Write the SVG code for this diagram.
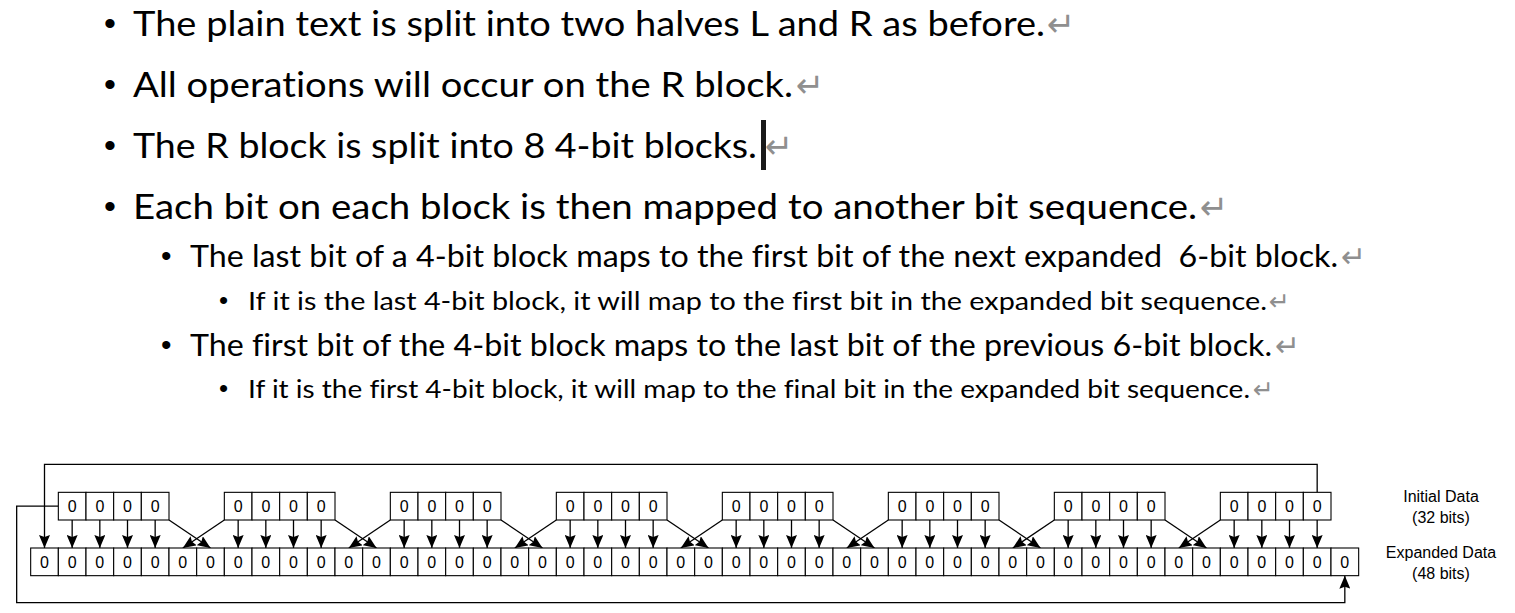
<svg xmlns="http://www.w3.org/2000/svg" width="1515" height="613" viewBox="0 0 1515 613">
<style>
.t1,.t2,.t3{font-family:Lato,"Open Sans",sans-serif;fill:#000;font-variant-ligatures:none}
.t1{font-size:35px}
.t2{font-size:30px}
.t3{font-size:25px}
.b{font-family:"Liberation Sans",Arial,sans-serif;fill:#000}
.ret{font-family:"DejaVu Sans",sans-serif;fill:#8f8f8f}
.cell{fill:#fff;stroke:#000;stroke-width:1.1}
.d{font-family:"Liberation Sans",Arial,sans-serif;font-size:16px;fill:#000;text-anchor:middle}
.lbl{font-family:"Liberation Sans",Arial,sans-serif;font-size:16px;fill:#000;text-anchor:middle}
.c{fill:none;stroke:#000;stroke-width:1.3}
</style>
<defs>
<marker id="arr" viewBox="0 0 13 11" refX="13" refY="5.5" markerWidth="13" markerHeight="11" orient="auto" markerUnits="userSpaceOnUse">
<path d="M0,0 L13,5.5 L0,11 L2,5.5 z" fill="#000"/>
</marker>
</defs>
<rect width="1515" height="613" fill="#fff"/>

<g id="text">
<text class="b" x="104" y="35" font-size="34">•</text>
<text class="t1" x="133" y="36" textLength="912" lengthAdjust="spacingAndGlyphs">The plain text is split into two halves L and R as before.</text>
<text class="ret" x="1047" y="36" font-size="34">↵</text>

<text class="b" x="104" y="96" font-size="34">•</text>
<text class="t1" x="133" y="97" textLength="660" lengthAdjust="spacingAndGlyphs">All operations will occur on the R block.</text>
<text class="ret" x="796" y="97" font-size="34">↵</text>

<text class="b" x="104" y="157" font-size="34">•</text>
<text class="t1" x="133" y="158" textLength="624" lengthAdjust="spacingAndGlyphs">The R block is split into 8 4-bit blocks.</text>
<rect x="761" y="120" width="5" height="50" fill="#1a1a1a"/>
<text class="ret" x="765" y="158" font-size="34">↵</text>

<text class="b" x="104" y="218" font-size="34">•</text>
<text class="t1" x="133" y="219" textLength="1064" lengthAdjust="spacingAndGlyphs">Each bit on each block is then mapped to another bit sequence.</text>
<text class="ret" x="1200" y="219" font-size="34">↵</text>

<text class="b" x="161" y="266" font-size="30">•</text>
<text class="t2" x="190" y="267" textLength="1148" lengthAdjust="spacingAndGlyphs" xml:space="preserve">The last bit of a 4-bit block maps to the first bit of the next expanded  6-bit block.</text>
<text class="ret" x="1341" y="267" font-size="30">↵</text>

<text class="b" x="219" y="309" font-size="26">•</text>
<text class="t3" x="248" y="310" textLength="1019" lengthAdjust="spacingAndGlyphs">If it is the last 4-bit block, it will map to the first bit in the expanded bit sequence.</text>
<text class="ret" x="1269" y="310" font-size="25">↵</text>

<text class="b" x="161" y="355" font-size="30">•</text>
<text class="t2" x="190" y="356" textLength="1082" lengthAdjust="spacingAndGlyphs">The first bit of the 4-bit block maps to the last bit of the previous 6-bit block.</text>
<text class="ret" x="1275" y="356" font-size="30">↵</text>

<text class="b" x="219" y="397" font-size="26">•</text>
<text class="t3" x="248" y="398" textLength="1002" lengthAdjust="spacingAndGlyphs">If it is the first 4-bit block, it will map to the final bit in the expanded bit sequence.</text>
<text class="ret" x="1253" y="398" font-size="25">↵</text>
</g>

<g id="connectors">
<g transform="translate(58.33,0)">
<line class="c" x1="13.83" y1="520" x2="13.83" y2="548" marker-end="url(#arr)"/><line class="c" x1="41.5" y1="520" x2="41.5" y2="548" marker-end="url(#arr)"/><line class="c" x1="69.17" y1="520" x2="69.17" y2="548" marker-end="url(#arr)"/><line class="c" x1="96.83" y1="520" x2="96.83" y2="548" marker-end="url(#arr)"/>
</g>
<g transform="translate(224.33,0)">
<line class="c" x1="13.83" y1="520" x2="13.83" y2="548" marker-end="url(#arr)"/><line class="c" x1="41.5" y1="520" x2="41.5" y2="548" marker-end="url(#arr)"/><line class="c" x1="69.17" y1="520" x2="69.17" y2="548" marker-end="url(#arr)"/><line class="c" x1="96.83" y1="520" x2="96.83" y2="548" marker-end="url(#arr)"/>
</g>
<g transform="translate(390.33,0)">
<line class="c" x1="13.83" y1="520" x2="13.83" y2="548" marker-end="url(#arr)"/><line class="c" x1="41.5" y1="520" x2="41.5" y2="548" marker-end="url(#arr)"/><line class="c" x1="69.17" y1="520" x2="69.17" y2="548" marker-end="url(#arr)"/><line class="c" x1="96.83" y1="520" x2="96.83" y2="548" marker-end="url(#arr)"/>
</g>
<g transform="translate(556.33,0)">
<line class="c" x1="13.83" y1="520" x2="13.83" y2="548" marker-end="url(#arr)"/><line class="c" x1="41.5" y1="520" x2="41.5" y2="548" marker-end="url(#arr)"/><line class="c" x1="69.17" y1="520" x2="69.17" y2="548" marker-end="url(#arr)"/><line class="c" x1="96.83" y1="520" x2="96.83" y2="548" marker-end="url(#arr)"/>
</g>
<g transform="translate(722.33,0)">
<line class="c" x1="13.83" y1="520" x2="13.83" y2="548" marker-end="url(#arr)"/><line class="c" x1="41.5" y1="520" x2="41.5" y2="548" marker-end="url(#arr)"/><line class="c" x1="69.17" y1="520" x2="69.17" y2="548" marker-end="url(#arr)"/><line class="c" x1="96.83" y1="520" x2="96.83" y2="548" marker-end="url(#arr)"/>
</g>
<g transform="translate(888.33,0)">
<line class="c" x1="13.83" y1="520" x2="13.83" y2="548" marker-end="url(#arr)"/><line class="c" x1="41.5" y1="520" x2="41.5" y2="548" marker-end="url(#arr)"/><line class="c" x1="69.17" y1="520" x2="69.17" y2="548" marker-end="url(#arr)"/><line class="c" x1="96.83" y1="520" x2="96.83" y2="548" marker-end="url(#arr)"/>
</g>
<g transform="translate(1054.33,0)">
<line class="c" x1="13.83" y1="520" x2="13.83" y2="548" marker-end="url(#arr)"/><line class="c" x1="41.5" y1="520" x2="41.5" y2="548" marker-end="url(#arr)"/><line class="c" x1="69.17" y1="520" x2="69.17" y2="548" marker-end="url(#arr)"/><line class="c" x1="96.83" y1="520" x2="96.83" y2="548" marker-end="url(#arr)"/>
</g>
<g transform="translate(1220.33,0)">
<line class="c" x1="13.83" y1="520" x2="13.83" y2="548" marker-end="url(#arr)"/><line class="c" x1="41.5" y1="520" x2="41.5" y2="548" marker-end="url(#arr)"/><line class="c" x1="69.17" y1="520" x2="69.17" y2="548" marker-end="url(#arr)"/><line class="c" x1="96.83" y1="520" x2="96.83" y2="548" marker-end="url(#arr)"/>
</g>
<line class="c" x1="169" y1="520" x2="210.5" y2="548" marker-end="url(#arr)"/>
<line class="c" x1="224.33" y1="520" x2="182.83" y2="548" marker-end="url(#arr)"/>
<line class="c" x1="335" y1="520" x2="376.5" y2="548" marker-end="url(#arr)"/>
<line class="c" x1="390.33" y1="520" x2="348.83" y2="548" marker-end="url(#arr)"/>
<line class="c" x1="501" y1="520" x2="542.5" y2="548" marker-end="url(#arr)"/>
<line class="c" x1="556.33" y1="520" x2="514.83" y2="548" marker-end="url(#arr)"/>
<line class="c" x1="667" y1="520" x2="708.5" y2="548" marker-end="url(#arr)"/>
<line class="c" x1="722.33" y1="520" x2="680.83" y2="548" marker-end="url(#arr)"/>
<line class="c" x1="833" y1="520" x2="874.5" y2="548" marker-end="url(#arr)"/>
<line class="c" x1="888.33" y1="520" x2="846.83" y2="548" marker-end="url(#arr)"/>
<line class="c" x1="999" y1="520" x2="1040.5" y2="548" marker-end="url(#arr)"/>
<line class="c" x1="1054.33" y1="520" x2="1012.83" y2="548" marker-end="url(#arr)"/>
<line class="c" x1="1165" y1="520" x2="1206.5" y2="548" marker-end="url(#arr)"/>
<line class="c" x1="1220.33" y1="520" x2="1178.83" y2="548" marker-end="url(#arr)"/>
<path class="c" d="M1317.17,492.33V464.33H44.5V548" marker-end="url(#arr)"/>
<path class="c" d="M58.33,506.17H16.67V602.67H1344.83V575.67" marker-end="url(#arr)"/>
</g>

<g id="block-0" transform="translate(58.33,492.33)"><rect class="cell" x="0" y="0" width="27.67" height="27.67"/><rect class="cell" x="27.67" y="0" width="27.67" height="27.67"/><rect class="cell" x="55.33" y="0" width="27.67" height="27.67"/><rect class="cell" x="83" y="0" width="27.67" height="27.67"/><text class="d" x="13.83" y="19.6">0</text><text class="d" x="41.5" y="19.6">0</text><text class="d" x="69.17" y="19.6">0</text><text class="d" x="96.83" y="19.6">0</text></g>
<g id="block-1" transform="translate(224.33,492.33)"><rect class="cell" x="0" y="0" width="27.67" height="27.67"/><rect class="cell" x="27.67" y="0" width="27.67" height="27.67"/><rect class="cell" x="55.33" y="0" width="27.67" height="27.67"/><rect class="cell" x="83" y="0" width="27.67" height="27.67"/><text class="d" x="13.83" y="19.6">0</text><text class="d" x="41.5" y="19.6">0</text><text class="d" x="69.17" y="19.6">0</text><text class="d" x="96.83" y="19.6">0</text></g>
<g id="block-2" transform="translate(390.33,492.33)"><rect class="cell" x="0" y="0" width="27.67" height="27.67"/><rect class="cell" x="27.67" y="0" width="27.67" height="27.67"/><rect class="cell" x="55.33" y="0" width="27.67" height="27.67"/><rect class="cell" x="83" y="0" width="27.67" height="27.67"/><text class="d" x="13.83" y="19.6">0</text><text class="d" x="41.5" y="19.6">0</text><text class="d" x="69.17" y="19.6">0</text><text class="d" x="96.83" y="19.6">0</text></g>
<g id="block-3" transform="translate(556.33,492.33)"><rect class="cell" x="0" y="0" width="27.67" height="27.67"/><rect class="cell" x="27.67" y="0" width="27.67" height="27.67"/><rect class="cell" x="55.33" y="0" width="27.67" height="27.67"/><rect class="cell" x="83" y="0" width="27.67" height="27.67"/><text class="d" x="13.83" y="19.6">0</text><text class="d" x="41.5" y="19.6">0</text><text class="d" x="69.17" y="19.6">0</text><text class="d" x="96.83" y="19.6">0</text></g>
<g id="block-4" transform="translate(722.33,492.33)"><rect class="cell" x="0" y="0" width="27.67" height="27.67"/><rect class="cell" x="27.67" y="0" width="27.67" height="27.67"/><rect class="cell" x="55.33" y="0" width="27.67" height="27.67"/><rect class="cell" x="83" y="0" width="27.67" height="27.67"/><text class="d" x="13.83" y="19.6">0</text><text class="d" x="41.5" y="19.6">0</text><text class="d" x="69.17" y="19.6">0</text><text class="d" x="96.83" y="19.6">0</text></g>
<g id="block-5" transform="translate(888.33,492.33)"><rect class="cell" x="0" y="0" width="27.67" height="27.67"/><rect class="cell" x="27.67" y="0" width="27.67" height="27.67"/><rect class="cell" x="55.33" y="0" width="27.67" height="27.67"/><rect class="cell" x="83" y="0" width="27.67" height="27.67"/><text class="d" x="13.83" y="19.6">0</text><text class="d" x="41.5" y="19.6">0</text><text class="d" x="69.17" y="19.6">0</text><text class="d" x="96.83" y="19.6">0</text></g>
<g id="block-6" transform="translate(1054.33,492.33)"><rect class="cell" x="0" y="0" width="27.67" height="27.67"/><rect class="cell" x="27.67" y="0" width="27.67" height="27.67"/><rect class="cell" x="55.33" y="0" width="27.67" height="27.67"/><rect class="cell" x="83" y="0" width="27.67" height="27.67"/><text class="d" x="13.83" y="19.6">0</text><text class="d" x="41.5" y="19.6">0</text><text class="d" x="69.17" y="19.6">0</text><text class="d" x="96.83" y="19.6">0</text></g>
<g id="block-7" transform="translate(1220.33,492.33)"><rect class="cell" x="0" y="0" width="27.67" height="27.67"/><rect class="cell" x="27.67" y="0" width="27.67" height="27.67"/><rect class="cell" x="55.33" y="0" width="27.67" height="27.67"/><rect class="cell" x="83" y="0" width="27.67" height="27.67"/><text class="d" x="13.83" y="19.6">0</text><text class="d" x="41.5" y="19.6">0</text><text class="d" x="69.17" y="19.6">0</text><text class="d" x="96.83" y="19.6">0</text></g>

<g id="expanded-0" transform="translate(30.67,548)"><rect class="cell" x="0" y="0" width="27.67" height="27.67"/><rect class="cell" x="27.67" y="0" width="27.67" height="27.67"/><rect class="cell" x="55.33" y="0" width="27.67" height="27.67"/><rect class="cell" x="83" y="0" width="27.67" height="27.67"/><rect class="cell" x="110.67" y="0" width="27.67" height="27.67"/><rect class="cell" x="138.33" y="0" width="27.67" height="27.67"/><text class="d" x="13.83" y="19.6">0</text><text class="d" x="41.5" y="19.6">0</text><text class="d" x="69.17" y="19.6">0</text><text class="d" x="96.83" y="19.6">0</text><text class="d" x="124.5" y="19.6">0</text><text class="d" x="152.17" y="19.6">0</text></g>
<g id="expanded-1" transform="translate(196.67,548)"><rect class="cell" x="0" y="0" width="27.67" height="27.67"/><rect class="cell" x="27.67" y="0" width="27.67" height="27.67"/><rect class="cell" x="55.33" y="0" width="27.67" height="27.67"/><rect class="cell" x="83" y="0" width="27.67" height="27.67"/><rect class="cell" x="110.67" y="0" width="27.67" height="27.67"/><rect class="cell" x="138.33" y="0" width="27.67" height="27.67"/><text class="d" x="13.83" y="19.6">0</text><text class="d" x="41.5" y="19.6">0</text><text class="d" x="69.17" y="19.6">0</text><text class="d" x="96.83" y="19.6">0</text><text class="d" x="124.5" y="19.6">0</text><text class="d" x="152.17" y="19.6">0</text></g>
<g id="expanded-2" transform="translate(362.67,548)"><rect class="cell" x="0" y="0" width="27.67" height="27.67"/><rect class="cell" x="27.67" y="0" width="27.67" height="27.67"/><rect class="cell" x="55.33" y="0" width="27.67" height="27.67"/><rect class="cell" x="83" y="0" width="27.67" height="27.67"/><rect class="cell" x="110.67" y="0" width="27.67" height="27.67"/><rect class="cell" x="138.33" y="0" width="27.67" height="27.67"/><text class="d" x="13.83" y="19.6">0</text><text class="d" x="41.5" y="19.6">0</text><text class="d" x="69.17" y="19.6">0</text><text class="d" x="96.83" y="19.6">0</text><text class="d" x="124.5" y="19.6">0</text><text class="d" x="152.17" y="19.6">0</text></g>
<g id="expanded-3" transform="translate(528.67,548)"><rect class="cell" x="0" y="0" width="27.67" height="27.67"/><rect class="cell" x="27.67" y="0" width="27.67" height="27.67"/><rect class="cell" x="55.33" y="0" width="27.67" height="27.67"/><rect class="cell" x="83" y="0" width="27.67" height="27.67"/><rect class="cell" x="110.67" y="0" width="27.67" height="27.67"/><rect class="cell" x="138.33" y="0" width="27.67" height="27.67"/><text class="d" x="13.83" y="19.6">0</text><text class="d" x="41.5" y="19.6">0</text><text class="d" x="69.17" y="19.6">0</text><text class="d" x="96.83" y="19.6">0</text><text class="d" x="124.5" y="19.6">0</text><text class="d" x="152.17" y="19.6">0</text></g>
<g id="expanded-4" transform="translate(694.67,548)"><rect class="cell" x="0" y="0" width="27.67" height="27.67"/><rect class="cell" x="27.67" y="0" width="27.67" height="27.67"/><rect class="cell" x="55.33" y="0" width="27.67" height="27.67"/><rect class="cell" x="83" y="0" width="27.67" height="27.67"/><rect class="cell" x="110.67" y="0" width="27.67" height="27.67"/><rect class="cell" x="138.33" y="0" width="27.67" height="27.67"/><text class="d" x="13.83" y="19.6">0</text><text class="d" x="41.5" y="19.6">0</text><text class="d" x="69.17" y="19.6">0</text><text class="d" x="96.83" y="19.6">0</text><text class="d" x="124.5" y="19.6">0</text><text class="d" x="152.17" y="19.6">0</text></g>
<g id="expanded-5" transform="translate(860.67,548)"><rect class="cell" x="0" y="0" width="27.67" height="27.67"/><rect class="cell" x="27.67" y="0" width="27.67" height="27.67"/><rect class="cell" x="55.33" y="0" width="27.67" height="27.67"/><rect class="cell" x="83" y="0" width="27.67" height="27.67"/><rect class="cell" x="110.67" y="0" width="27.67" height="27.67"/><rect class="cell" x="138.33" y="0" width="27.67" height="27.67"/><text class="d" x="13.83" y="19.6">0</text><text class="d" x="41.5" y="19.6">0</text><text class="d" x="69.17" y="19.6">0</text><text class="d" x="96.83" y="19.6">0</text><text class="d" x="124.5" y="19.6">0</text><text class="d" x="152.17" y="19.6">0</text></g>
<g id="expanded-6" transform="translate(1026.67,548)"><rect class="cell" x="0" y="0" width="27.67" height="27.67"/><rect class="cell" x="27.67" y="0" width="27.67" height="27.67"/><rect class="cell" x="55.33" y="0" width="27.67" height="27.67"/><rect class="cell" x="83" y="0" width="27.67" height="27.67"/><rect class="cell" x="110.67" y="0" width="27.67" height="27.67"/><rect class="cell" x="138.33" y="0" width="27.67" height="27.67"/><text class="d" x="13.83" y="19.6">0</text><text class="d" x="41.5" y="19.6">0</text><text class="d" x="69.17" y="19.6">0</text><text class="d" x="96.83" y="19.6">0</text><text class="d" x="124.5" y="19.6">0</text><text class="d" x="152.17" y="19.6">0</text></g>
<g id="expanded-7" transform="translate(1192.67,548)"><rect class="cell" x="0" y="0" width="27.67" height="27.67"/><rect class="cell" x="27.67" y="0" width="27.67" height="27.67"/><rect class="cell" x="55.33" y="0" width="27.67" height="27.67"/><rect class="cell" x="83" y="0" width="27.67" height="27.67"/><rect class="cell" x="110.67" y="0" width="27.67" height="27.67"/><rect class="cell" x="138.33" y="0" width="27.67" height="27.67"/><text class="d" x="13.83" y="19.6">0</text><text class="d" x="41.5" y="19.6">0</text><text class="d" x="69.17" y="19.6">0</text><text class="d" x="96.83" y="19.6">0</text><text class="d" x="124.5" y="19.6">0</text><text class="d" x="152.17" y="19.6">0</text></g>

<g id="label-initial"><text class="lbl" x="1441" y="502">Initial Data</text><text class="lbl" x="1441" y="523">(32 bits)</text></g>
<g id="label-expanded"><text class="lbl" x="1441" y="558">Expanded Data</text><text class="lbl" x="1441" y="579">(48 bits)</text></g>
</svg>
